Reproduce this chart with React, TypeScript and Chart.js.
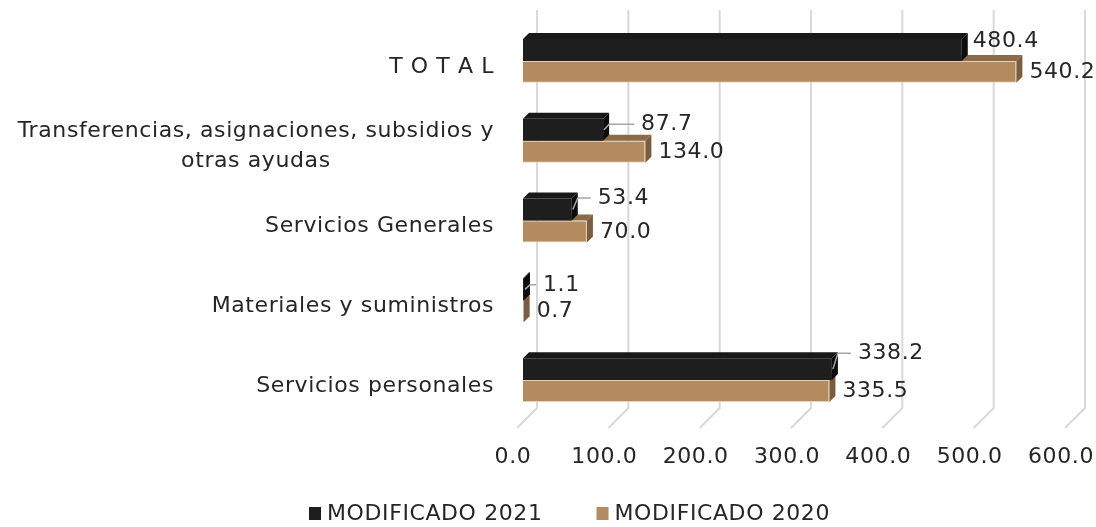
import React, { useEffect, useRef } from "react";
import { Chart, registerables } from "chart.js";

Chart.register(...registerables);

const CATEGORIES: (string | string[])[] = [
  "T O T A L",
  ["Transferencias, asignaciones, subsidios y", "otras ayudas"],
  "Servicios Generales",
  "Materiales y suministros",
  "Servicios personales",
];
const SERIES_2021_LABEL = "MODIFICADO 2021";
const SERIES_2020_LABEL = "MODIFICADO 2020";
const MOD_2021 = [480.4, 87.7, 53.4, 1.1, 338.2];
const MOD_2020 = [540.2, 134.0, 70.0, 0.7, 335.5];
const X_MIN = 0;
const X_MAX = 600;
const X_STEP = 100;

// style constants
const FONT = "'DejaVu Sans', sans-serif";
const FONT_SIZE = 22;
const LETTER_SPACING = "0.6px";
const TEXT_COLOR = "#262626";
const DEPTH = 6;
const BACK_DX = 14;
const COLORS = {
  s2021: { front: "#1e1e1e", top: "#181818", side: "#0c0c0c", edge: "#3a3a3a" },
  s2020: { front: "#B38B5E", top: "#8a6a47", side: "#7a5d3e", edge: "#e2d2bb" },
};
// manual label nudges (dx from bar end, dy from bar centre) — annotation placement
const NUDGE_2021 = [
  [11, -8.5],
  [38, -5.5],
  [26, -11.5],
  [19, -4.5],
  [26, -16],
];
const NUDGE_2020 = [13, 0.5];

const fontStr = (s = FONT_SIZE) => `${s}px ${FONT}`;

const threeD = {
  id: "threeD",
  beforeDraw(chart: any) {
    (chart.ctx as any).letterSpacing = LETTER_SPACING;
  },
  beforeDatasetsDraw(chart: any) {
    const { ctx, chartArea } = chart;
    const xs = chart.scales.x;
    ctx.save();
    ctx.strokeStyle = "#d9d9d9";
    ctx.lineWidth = 2;
    for (let v = X_MIN; v <= X_MAX; v += X_STEP) {
      const xb = xs.getPixelForValue(v) + BACK_DX;
      const yTop = 10;
      const yBot = chartArea.bottom - 12;
      ctx.beginPath();
      ctx.moveTo(xb, yTop);
      ctx.lineTo(xb, yBot);
      ctx.lineTo(xb - 20, yBot + 20);
      ctx.stroke();
    }
    ctx.restore();
  },
  afterDatasetDraw(chart: any, args: any) {
    const { ctx } = chart;
    const meta = args.meta;
    const c = args.index === 0 ? COLORS.s2021 : COLORS.s2020;
    ctx.save();
    meta.data.forEach((el: any) => {
      const { x, y, base, height } = el.getProps(["x", "y", "base", "height"], true);
      const top = y - height / 2;
      const bot = y + height / 2;
      const d = DEPTH;
      ctx.fillStyle = c.top;
      ctx.beginPath();
      ctx.moveTo(base, top);
      ctx.lineTo(x, top);
      ctx.lineTo(x + d, top - d);
      ctx.lineTo(base + d, top - d);
      ctx.closePath();
      ctx.fill();
      ctx.fillStyle = c.side;
      ctx.beginPath();
      ctx.moveTo(x, top);
      ctx.lineTo(x, bot);
      ctx.lineTo(x + d, bot - d);
      ctx.lineTo(x + d, top - d);
      ctx.closePath();
      ctx.fill();
    });
    ctx.restore();
  },
  afterDatasetsDraw(chart: any) {
    const { ctx } = chart;
    ctx.save();
    ctx.font = fontStr();
    ctx.fillStyle = TEXT_COLOR;
    ctx.textBaseline = "middle";
    ctx.textAlign = "left";
    const m1 = chart.getDatasetMeta(1);
    m1.data.forEach((el: any, i: number) => {
      const v = MOD_2020[i];
      ctx.fillText(v.toFixed(1), el.x + NUDGE_2020[0], el.y + NUDGE_2020[1]);
    });
    const m0 = chart.getDatasetMeta(0);
    m0.data.forEach((el: any, i: number) => {
      const v = MOD_2021[i];
      const [dx, dy] = NUDGE_2021[i];
      const lx = el.x + dx;
      const ly = el.y + dy;
      if (dx > 15) {
        ctx.strokeStyle = "#a6a6a6";
        ctx.lineWidth = 1.5;
        ctx.beginPath();
        ctx.moveTo(el.x + 1, el.y);
        ctx.lineTo(el.x + 6, ly);
        ctx.lineTo(lx - 7, ly);
        ctx.stroke();
      }
      ctx.fillStyle = TEXT_COLOR;
      ctx.fillText(v.toFixed(1), lx, ly);
    });
    ctx.restore();
  },
  afterDraw(chart: any) {
    const { ctx } = chart;
    const ys = chart.scales.y;
    ctx.save();
    ctx.font = fontStr();
    ctx.fillStyle = TEXT_COLOR;
    ctx.textBaseline = "middle";
    const right = 494;
    const lh = 30;
    CATEGORIES.forEach((lab, i) => {
      const lines = Array.isArray(lab) ? lab : [lab];
      const cy = ys.getPixelForValue(i) + 6;
      const w = Math.max(...lines.map((l) => ctx.measureText(l).width));
      const cx = right - w / 2;
      ctx.textAlign = "center";
      lines.forEach((l, k) => {
        ctx.fillText(l, cx, cy + (k - (lines.length - 1) / 2) * lh);
      });
    });
    const items = [
      { text: SERIES_2021_LABEL, color: COLORS.s2021.front },
      { text: SERIES_2020_LABEL, color: COLORS.s2020.front },
    ];
    let x = 309;
    const ly = 513;
    ctx.textAlign = "left";
    items.forEach((it) => {
      ctx.fillStyle = it.color;
      ctx.fillRect(x, ly - 6, 12, 13);
      x += 18;
      ctx.fillStyle = TEXT_COLOR;
      ctx.fillText(it.text, x, ly + 1);
      x += ctx.measureText(it.text).width + 54;
    });
    ctx.restore();
  },
};

export default function App() {
  const ref = useRef<HTMLCanvasElement>(null);
  useEffect(() => {
    document.body.style.margin = "0";
    const chart = new Chart(ref.current!, {
      type: "bar",
      data: {
        labels: CATEGORIES as any,
        datasets: [
          {
            label: SERIES_2021_LABEL,
            data: MOD_2021,
            backgroundColor: COLORS.s2021.front,
            borderColor: COLORS.s2021.edge,
            borderWidth: 0,
            categoryPercentage: 0.55,
            barPercentage: 1,
          },
          {
            label: SERIES_2020_LABEL,
            data: MOD_2020,
            backgroundColor: COLORS.s2020.front,
            borderColor: COLORS.s2020.edge,
            borderWidth: 1,
            categoryPercentage: 0.55,
            barPercentage: 1,
          },
        ],
      },
      options: {
        indexAxis: "y",
        animation: false,
        responsive: false,
        maintainAspectRatio: false,
        layout: { padding: { top: 21, right: 25, left: 0, bottom: 0 } },
        plugins: { legend: { display: false }, tooltip: { enabled: false } },
        scales: {
          x: {
            min: X_MIN,
            max: X_MAX,
            border: { display: false },
            grid: { display: false, drawTicks: false },
            ticks: {
              stepSize: X_STEP,
              padding: 24,
              labelOffset: -10,
              maxRotation: 0,
              color: TEXT_COLOR,
              font: { family: FONT, size: FONT_SIZE },
              callback: (v: any) => Number(v).toFixed(1),
            },
            afterFit: (s: any) => {
              s.height = 107;
              s.paddingLeft = 0;
              s.paddingRight = 0;
            },
          },
          y: {
            border: { display: false },
            grid: { display: false, drawTicks: false },
            ticks: { display: false },
            afterFit: (s: any) => {
              s.width = 523;
              s.paddingTop = 0;
              s.paddingBottom = 0;
            },
          },
        },
      },
      plugins: [threeD],
    });
    return () => chart.destroy();
  }, []);
  return (
    <div style={{ position: "fixed", left: 0, top: 0, width: 1096, height: 527, background: "#fff" }}>
      <canvas ref={ref} width={1096} height={527} style={{ width: 1096, height: 527 }} />
    </div>
  );
}
